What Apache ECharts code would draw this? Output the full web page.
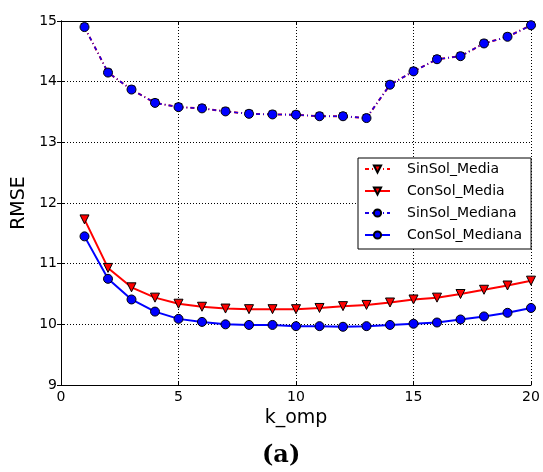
<!DOCTYPE html>
<html>
<head>
<meta charset="utf-8">
<script src="https://cdn.jsdelivr.net/npm/echarts@6/dist/echarts.min.js"></script>
<style>html,body{margin:0;padding:0;background:#fff}#c{width:543px;height:472px}</style>
</head>
<body>
<div id="c"></div>
<script>
const kValues = [1,2,3,4,5,6,7,8,9,10,11,12,13,14,15,16,17,18,19,20];
const sinSolMedia   = [14.90,14.15,13.87,13.65,13.58,13.56,13.51,13.47,13.46,13.455,13.43,13.43,13.40,13.95,14.17,14.37,14.42,14.63,14.74,14.93];
const conSolMedia   = [11.73,10.93,10.61,10.44,10.34,10.29,10.26,10.25,10.25,10.25,10.27,10.30,10.32,10.36,10.41,10.44,10.50,10.57,10.64,10.72];
const sinSolMediana = [14.90,14.15,13.87,13.65,13.58,13.56,13.51,13.47,13.46,13.455,13.43,13.43,13.40,13.95,14.17,14.37,14.42,14.63,14.74,14.93];
const conSolMediana = [11.45,10.75,10.41,10.21,10.09,10.04,10.00,9.99,9.99,9.97,9.97,9.96,9.97,9.99,10.01,10.03,10.08,10.13,10.19,10.27];
const seriesNames = ['SinSol_Media','ConSol_Media','SinSol_Mediana','ConSol_Mediana'];
const xTitle = 'k_omp', yTitle = 'RMSE', panelLabel = '(a)';

const pairs = arr => kValues.map((k,i)=>[k,arr[i]]);
const FONT = 'DejaVu Sans';
const chart = echarts.init(document.getElementById('c'), null, {renderer:'canvas'});
const axisLine = {show:true, lineStyle:{color:'#000', width:1}};
const tick = {show:true, inside:true, length:4, lineStyle:{color:'#000', width:1}};
const grid = {show:true, lineStyle:{color:'#000', width:1, type:[1,2]}};
chart.setOption({
  animation:false,
  backgroundColor:'#fff',
  grid:{left:61, right:12, top:21, bottom:87, containLabel:false},
  xAxis:[
    {type:'value', min:0, max:20, interval:5, position:'bottom',
     axisLine, axisTick:tick, splitLine:grid,
     axisLabel:{color:'#000', fontFamily:FONT, fontSize:14, margin:5},
     name:xTitle, nameLocation:'middle', nameGap:23,
     nameTextStyle:{color:'#000', fontFamily:FONT, fontSize:19, verticalAlign:'top'}},
    {type:'value', min:0, max:20, interval:5, position:'top',
     axisLine, axisTick:tick, splitLine:{show:false}, axisLabel:{show:false}}
  ],
  yAxis:[
    {type:'value', min:9, max:15, interval:1, position:'left',
     axisLine, axisTick:tick, splitLine:grid,
     axisLabel:{color:'#000', fontFamily:FONT, fontSize:14, margin:4},
     name:yTitle, nameLocation:'middle', nameGap:30, nameRotate:90,
     nameTextStyle:{color:'#000', fontFamily:FONT, fontSize:19}},
    {type:'value', min:9, max:15, interval:1, position:'right',
     axisLine, axisTick:tick, splitLine:{show:false}, axisLabel:{show:false}}
  ],
  legend:{
    orient:'vertical', left:358, top:158,
    backgroundColor:'#fff', borderColor:'#000', borderWidth:1, borderRadius:0,
    padding:[4,9,7,6], itemGap:8, itemWidth:25, itemHeight:9,
    textStyle:{color:'#000', fontFamily:FONT, fontSize:14, lineHeight:14, padding:[0,0,0,12]},
    data:seriesNames
  },
  graphic:[{type:'text', left:262, top:444,
    style:{text:panelLabel, font:'bold 24px "DejaVu Serif", serif', fill:'#000'}}],
  series:[
    {name:seriesNames[0], type:'line', data:pairs(sinSolMedia), symbol:'triangle', symbolRotate:180, symbolSize:7,
     lineStyle:{color:'#ff0000', width:2, type:[4,3,1,3]},
     itemStyle:{color:'#ff0000', borderColor:'#000', borderWidth:1}},
    {name:seriesNames[1], type:'line', data:pairs(conSolMedia), symbol:'triangle', symbolRotate:180, symbolSize:9,
     lineStyle:{color:'#ff0000', width:2},
     itemStyle:{color:'#ff0000', borderColor:'#000', borderWidth:1}},
    {name:seriesNames[2], type:'line', data:pairs(sinSolMediana), symbol:'circle', symbolSize:9,
     lineStyle:{color:'#1a00e6', width:1.6, type:[4,3,1,3]},
     itemStyle:{color:'#0000ff', borderColor:'#000', borderWidth:1}},
    {name:seriesNames[3], type:'line', data:pairs(conSolMediana), symbol:'circle', symbolSize:9,
     lineStyle:{color:'#0000ff', width:2},
     itemStyle:{color:'#0000ff', borderColor:'#000', borderWidth:1}}
  ]
});
</script>
</body>
</html>
